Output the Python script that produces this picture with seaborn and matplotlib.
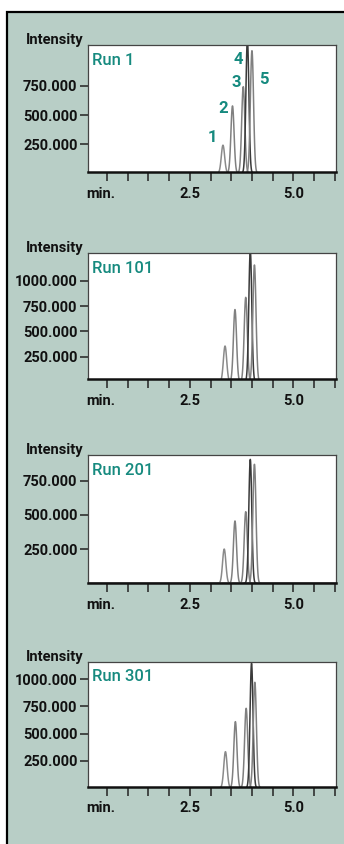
import numpy as np
import pandas as pd
import matplotlib
matplotlib.use("Agg")
import matplotlib.pyplot as plt
from matplotlib.patches import Rectangle
import seaborn as sns

# ---- data (intensity in thousands) ----
runs = ["Run 1", "Run 101", "Run 201", "Run 301"]
peak_ids = [1, 2, 3, 4, 5]
peak_times = {
    "Run 1":   [3.30, 3.53, 3.79, 3.89, 4.00],
    "Run 101": [3.35, 3.59, 3.85, 3.96, 4.06],
    "Run 201": [3.33, 3.59, 3.85, 3.96, 4.06],
    "Run 301": [3.36, 3.60, 3.86, 3.99, 4.07],
}
peak_heights = {
    "Run 1":   [240, 578, 744, 1150, 1054],
    "Run 101": [354, 716, 837, 1300, 1158],
    "Run 201": [250, 455, 523, 905, 869],
    "Run 301": [333, 610, 733, 1148, 973],
}
peak_sigma = [0.040, 0.038, 0.038, 0.036, 0.038]
y_ticks = {
    "Run 1":   [250, 500, 750],
    "Run 101": [250, 500, 750, 1000],
    "Run 201": [250, 500, 750],
    "Run 301": [250, 500, 750, 1000],
}
y_limits = {
    "Run 1":   (9, 1103),
    "Run 101": (24, 1274),
    "Run 201": (0, 937),
    "Run 301": (10, 1163),
}
x_tick_pos = [0.5, 1.0, 1.5, 2.0, 2.5, 3.0, 3.5, 4.0, 4.5, 5.0, 5.5, 6.0]
x_tick_labels = {2.5: "2.5", 5.0: "5.0"}

# ---- style ----
sns.set_theme(style="white")
plt.rcParams["font.family"] = ["Roboto", "DejaVu Sans"]
BG = "#b8cec6"
TEAL = "#168a7f"
W, H = 344, 844
FW = "semibold"

fig = plt.figure(figsize=(W / 100, H / 100), dpi=100)
fig.patch.set_facecolor("white")
fig.add_artist(Rectangle((7 / W, -0.1), 1.2, (H - 12) / H + 0.1,
                         transform=fig.transFigure, facecolor=BG,
                         edgecolor="black", lw=1.6, zorder=-10))

boxes = {  # top, bottom in pixels
    "Run 1": (45, 172),
    "Run 101": (253.3, 379.3),
    "Run 201": (455, 583.3),
    "Run 301": (661.7, 786.7),
}
left_px, right_px = 88, 336

for run in runs:
    top, bot = boxes[run]
    ax = fig.add_axes([left_px / W, 1 - bot / H, (right_px - left_px) / W, (bot - top) / H])
    ax.set_facecolor("white")

    rows = []
    base_t = np.linspace(0.0, 6.1, 300)
    for t in base_t:
        rows.append({"time": t, "intensity": 0.0, "trace": "base"})
    for pid, t0, h, s in zip(peak_ids, peak_times[run], peak_heights[run], peak_sigma):
        tt = np.linspace(t0 - 4 * s, t0 + 4 * s, 120)
        yy = h * np.exp(-0.5 * ((tt - t0) / s) ** 2)
        for a, b in zip(tt, yy):
            rows.append({"time": a, "intensity": b, "trace": f"p{pid}"})
    df = pd.DataFrame(rows)
    palette = {"base": "#8a8a8a", "p1": "#8a8a8a", "p2": "#808080",
               "p3": "#808080", "p4": "#3a3a3a", "p5": "#808080"}
    sns.lineplot(data=df, x="time", y="intensity", hue="trace", palette=palette,
                 legend=False, ax=ax, lw=1.1, sort=False, estimator=None)

    ax.set_xlim(0.04, 6.03)
    ax.set_ylim(*y_limits[run])
    ax.set_xlabel("")
    ax.set_ylabel("")

    ax.set_xticks(x_tick_pos)
    ax.set_xticklabels([x_tick_labels.get(p, "") for p in x_tick_pos])
    ax.set_yticks(y_ticks[run])
    ax.set_yticklabels([f"{v}.000" for v in y_ticks[run]])
    ax.tick_params(axis="x", bottom=True, direction="out", length=6.5, width=1.1,
                   color="#222222", labelsize=10.5, pad=4, labelcolor="#111111")
    ax.tick_params(axis="y", left=True, direction="out", length=5.5, width=1.1,
                   color="#222222", labelsize=10.5, pad=2, labelcolor="#111111")
    for lab in ax.get_xticklabels() + ax.get_yticklabels():
        lab.set_fontweight(FW)
    ax.annotate("min.", xy=(0.34, 0), xycoords=("data", "axes fraction"),
                xytext=(0, -10.5), textcoords="offset points", ha="center", va="top",
                fontsize=10.5, fontweight=FW, color="#111111")

    for side in ["top", "right", "left"]:
        ax.spines[side].set_color("#444444")
        ax.spines[side].set_linewidth(0.9)
        ax.spines[side].set_visible(True)
    ax.spines["bottom"].set_color("#111111")
    ax.spines["bottom"].set_linewidth(1.8)
    ax.spines["bottom"].set_visible(True)

    ax.text(-0.02, 1.008, "Intensity", transform=ax.transAxes, ha="right",
            va="baseline", fontsize=10.5, fontweight=FW, color="#111111")
    ax.text(0.018, 0.88, run, transform=ax.transAxes, ha="left", va="center",
            fontsize=12, fontweight="medium", color=TEAL)

    if run == "Run 1":
        lab_pos = [(3.04, 302), (3.30, 560), (3.62, 784), (3.67, 974), (4.29, 802)]
        for pid, (lx, ly) in zip(peak_ids, lab_pos):
            ax.text(lx, ly, str(pid), ha="center", va="center", fontsize=12,
                    fontweight=FW, color=TEAL)

fig.savefig("out.png", dpi=100, facecolor=fig.get_facecolor())
